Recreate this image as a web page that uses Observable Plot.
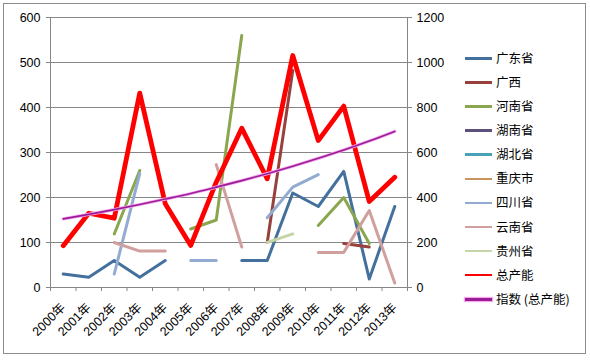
<!DOCTYPE html>
<html><head><meta charset="utf-8">
<script src="https://cdn.jsdelivr.net/npm/d3@7"></script>
<script src="https://cdn.jsdelivr.net/npm/@observablehq/plot@0.6"></script>
<style>
body{margin:0;background:#fff;}
#wrap{position:relative;width:590px;height:361px;overflow:hidden;font-family:"Liberation Sans","Noto Sans CJK SC",sans-serif;}
#border{position:absolute;left:3px;top:3px;width:583px;height:351px;border:1px solid #8c8c8c;box-sizing:border-box;}
#chart{position:absolute;left:0;top:0;}
#legend{position:absolute;left:0;top:0;}
.item{position:absolute;white-space:nowrap;font-size:12.5px;line-height:14px;color:#000;font-family:"Noto Sans CJK SC",sans-serif;}
.sw{position:absolute;width:27px;height:2.6px;}
</style></head>
<body>
<div id="wrap"><div id="border"></div><div id="chart"></div><div id="legend"></div></div>
<script>
const years = [2000,2001,2002,2003,2004,2005,2006,2007,2008,2009,2010,2011,2012,2013];
const seriesNames = ["广东省","广西","河南省","湖南省","湖北省","重庆市","四川省","云南省","贵州省","总产能","指数 (总产能)"];
const seriesColors = ["#44709e","#98403b","#8aa64f","#5e507c","#4aa2b6","#c8935c","#93abd0","#d0a09e","#c6d5a8","#ff0000","#9a1d96"];
const guangdong = [30,23,60,23,60,null,null,60,60,210,180,258,19,180];
const guangxi   = [null,null,null,null,null,null,null,null,100,482,null,98,90,null];
const henan     = [null,null,119,260,null,130,150,560,null,null,138,200,98,null];
const hunan     = [null,null,null,null,null,null,null,null,null,null,null,null,null,null];
const hubei     = [null,null,null,null,null,null,null,null,null,null,null,null,null,null];
const chongqing = [null,null,null,null,null,null,null,null,null,null,null,null,null,null];
const sichuan   = [null,null,30,253,null,60,60,null,155,223,251,null,null,null];
const yunnan    = [null,null,100,81,81,null,273,90,null,null,78,78,171,10];
const guizhou   = [null,null,null,null,null,null,null,null,100,119,null,null,null,null];
// secondary axis (0-1200)
const total      = [186,330,308,864,372,187,468,708,483,1031,653,806,382,490];
const totalIndex = [305,325,346,369,393,418,446,475,506,539,574,611,651,694];
const leftTicks = [0,100,200,300,400,500,600];
const rightTicks = [0,200,400,600,800,1000,1200];
const provinces = [guangdong,guangxi,henan,hunan,hubei,chongqing,sichuan,yunnan,guizhou];

const xDomain = [years[0]-0.5, years[years.length-1]+0.5];
const boundaries = d3.range(xDomain[0], xDomain[1]+0.01, 1);
const toRows = (vals, k) => years.map((yr,i)=>({year:yr, v: vals[i]==null?null:vals[i]*k}));
const ratio = leftTicks[leftTicks.length-1]/rightTicks[rightTicks.length-1];

const marks = [
  Plot.gridY(leftTicks,{stroke:"#868686",strokeOpacity:1}),
  Plot.ruleX(xDomain,{stroke:"#868686"}),
  Plot.axisY(leftTicks,{anchor:"left",tickSize:4,tickPadding:6,stroke:"#868686",label:null}),
  Plot.axisY(leftTicks,{anchor:"right",tickSize:4,tickPadding:5,stroke:"#868686",tickFormat:d=>String(rightTicks[leftTicks.indexOf(d)]),label:null}),
  Plot.axisX(boundaries,{tickSize:4,stroke:"#868686",tickFormat:()=>"",label:null}),
  Plot.axisX(years,{tickSize:0,tickPadding:18,tickRotate:-45,tickFormat:d=>d+"年",label:null,fontSize:12.5})
];
provinces.forEach((vals,i)=>{
  marks.push(Plot.line(toRows(vals,1),{x:"year",y:"v",stroke:seriesColors[i],strokeWidth:3,strokeLinejoin:"round"}));
});
marks.push(Plot.line(toRows(total,ratio),{x:"year",y:"v",stroke:seriesColors[9],strokeWidth:4.8,strokeLinejoin:"round"}));
marks.push(Plot.line(toRows(totalIndex,ratio),{x:"year",y:"v",stroke:"#f7a6f2",strokeWidth:3.2,curve:"monotone-x"}));
marks.push(Plot.line(toRows(totalIndex,ratio),{x:"year",y:"v",stroke:seriesColors[10],strokeWidth:1.6,curve:"monotone-x"}));

const chart = Plot.plot({
  width:590,height:361,marginLeft:50,marginRight:183,marginTop:17,marginBottom:74,
  x:{type:"linear",domain:xDomain},
  y:{domain:[0,600]},
  style:{fontFamily:'"Liberation Sans","Noto Sans CJK SC",sans-serif',fontSize:"12.5px",color:"#000",background:"transparent",overflow:"visible"},
  marks
});
document.getElementById("chart").appendChild(chart);

const leg = document.getElementById("legend");
seriesNames.forEach((n,i)=>{
  const cy = 58.3 + i*24.1;
  const sw = document.createElement("div");
  sw.className="sw"; sw.style.left="465px"; sw.style.top=(cy-1.3)+"px"; sw.style.background=seriesColors[i];
  if(i===10){sw.style.boxShadow="0 0 1px 0.8px #f7a6f2";}
  leg.appendChild(sw);
  const t = document.createElement("div");
  t.className="item"; t.style.left="496px"; t.style.top=(cy-7.5)+"px"; t.textContent=n;
  leg.appendChild(t);
});
</script>
</body></html>
